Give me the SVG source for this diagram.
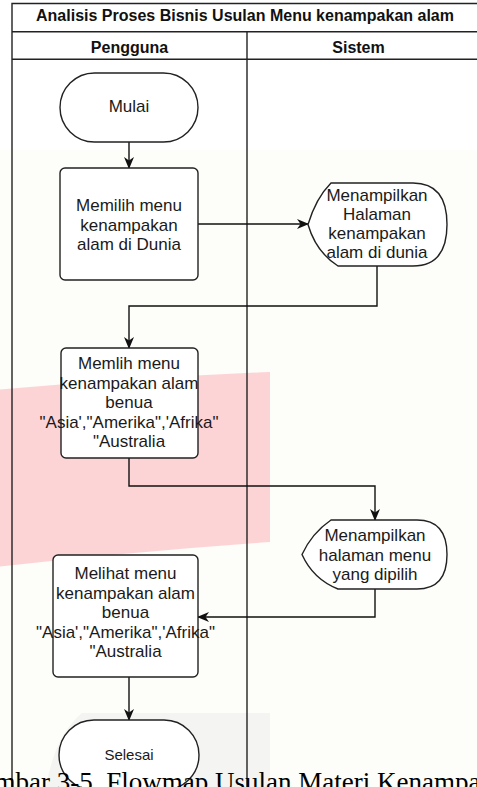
<svg xmlns="http://www.w3.org/2000/svg" width="477" height="787" viewBox="0 0 477 787">
  <defs>
    <marker id="arrow" viewBox="0 0 12 10" refX="11" refY="5" markerWidth="12" markerHeight="10" markerUnits="userSpaceOnUse" orient="auto">
      <path d="M0,0 L12,5 L0,10 L3.5,5 Z" fill="#111"/>
    </marker>
  </defs>
  <style>
    .frame { fill: none; stroke: #222; stroke-width: 1.4; }
    .node { fill: #ffffff; stroke: #222; stroke-width: 1.4; }
    .conn { fill: none; stroke: #111; stroke-width: 1.4; marker-end: url(#arrow); }
    .hdr { font-family: "Liberation Sans", Arial, sans-serif; font-weight: bold; font-size: 16px; fill: #111; text-anchor: middle; }
    .lbl { font-family: "Liberation Sans", Arial, sans-serif; font-size: 17px; fill: #1a1a1a; text-anchor: middle; }
    .cap { font-family: "Liberation Serif", "Times New Roman", serif; font-size: 27px; fill: #000; }
  </style>

  <!-- background and watermark -->
  <rect x="0" y="0" width="477" height="787" fill="#fdfdf9"/>
  <rect x="0" y="0" width="477" height="150" fill="#ffffff"/>
  <path d="M-5,390 Q130,378 270,372 L270,542 Q130,552 -5,567 Z" fill="#fdd4d5"/>
  <path d="M270,713 L82,713 Q55,735 46,787 L270,787 Z" fill="#f4f4f2"/>

  <!-- swimlane frame -->
  <g id="pool">
    <path class="frame" d="M12,787 L12,3.5 L480,3.5"/>
    <line class="frame" x1="12" y1="31.7" x2="480" y2="31.7"/>
    <line class="frame" x1="12" y1="59.3" x2="480" y2="59.3"/>
    <line class="frame" x1="247" y1="31.7" x2="247" y2="787"/>
    <text class="hdr" x="245" y="20.7">Analisis Proses Bisnis Usulan Menu kenampakan alam</text>
    <text class="hdr" x="129.5" y="52.5">Pengguna</text>
    <text class="hdr" x="358.5" y="52.5">Sistem</text>
  </g>

  <!-- connectors -->
  <g id="connectors">
    <path class="conn" d="M129,142 L129,168"/>
    <path class="conn" d="M198,224 L308,224"/>
    <path class="conn" d="M377,266 L377,306 L129,306 L129,348"/>
    <path class="conn" d="M129,458 L129,486 L375,486 L375,520"/>
    <path class="conn" d="M375,589 L375,617 L198,617"/>
    <path class="conn" d="M129,677 L129,720"/>
  </g>

  <g id="mulai">
    <rect class="node" x="60" y="73" width="138" height="69" rx="34.5" ry="34.5"/>
    <text class="lbl" x="129" y="111.5">Mulai</text>
  </g>

  <g id="memilih-menu">
    <rect class="node" x="60" y="168" width="138" height="112" rx="5" ry="5"/>
    <text class="lbl" x="129" y="211">Memilih menu</text>
    <text class="lbl" x="129" y="230.5">kenampakan</text>
    <text class="lbl" x="129" y="250">alam di Dunia</text>
  </g>

  <g id="tampil-halaman">
    <path class="node" d="M308,224.5 Q316,198 331,183 L413,183 Q447,183 447,224.5 Q447,266 413,266 L338,266 Q316,252 308,224.5 Z"/>
    <text class="lbl" x="377" y="200.5">Menampilkan</text>
    <text class="lbl" x="377" y="219.8">Halaman</text>
    <text class="lbl" x="377" y="239.1">kenampakan</text>
    <text class="lbl" x="377" y="258.4">alam di dunia</text>
  </g>

  <g id="memilih-benua">
    <rect class="node" x="61" y="348" width="137" height="110" rx="5" ry="5"/>
    <text class="lbl" x="129" y="369">Memlih menu</text>
    <text class="lbl" x="129" y="388.5">kenampakan alam</text>
    <text class="lbl" x="129" y="408">benua</text>
    <text class="lbl" x="129" y="427.5">"Asia',"Amerika",'Afrika"</text>
    <text class="lbl" x="129" y="447">"Australia</text>
  </g>

  <g id="tampil-menu">
    <path class="node" d="M302,554.5 Q312,533 331,520 L417,520 Q447,520 447,554.5 Q447,589 417,589 L338,589 Q313,579 302,554.5 Z"/>
    <text class="lbl" x="375" y="541">Menampilkan</text>
    <text class="lbl" x="375" y="560.5">halaman menu</text>
    <text class="lbl" x="375" y="580">yang dipilih</text>
  </g>

  <g id="melihat-menu">
    <rect class="node" x="53" y="555" width="145" height="122" rx="5" ry="5"/>
    <text class="lbl" x="125.5" y="579">Melihat menu</text>
    <text class="lbl" x="125.5" y="598.5">kenampakan alam</text>
    <text class="lbl" x="125.5" y="618">benua</text>
    <text class="lbl" x="125.5" y="637.5">"Asia',"Amerika",'Afrika"</text>
    <text class="lbl" x="125.5" y="657">"Australia</text>
  </g>

  <g id="selesai">
    <rect class="node" x="59" y="720" width="140" height="70" rx="35" ry="35"/>
    <text class="lbl" x="129" y="760" style="font-size:15px">Selesai</text>
  </g>

  <text class="cap" x="-37" y="791">Gambar 3-5. Flowmap Usulan Materi Kenampakan Alam</text>
</svg>
